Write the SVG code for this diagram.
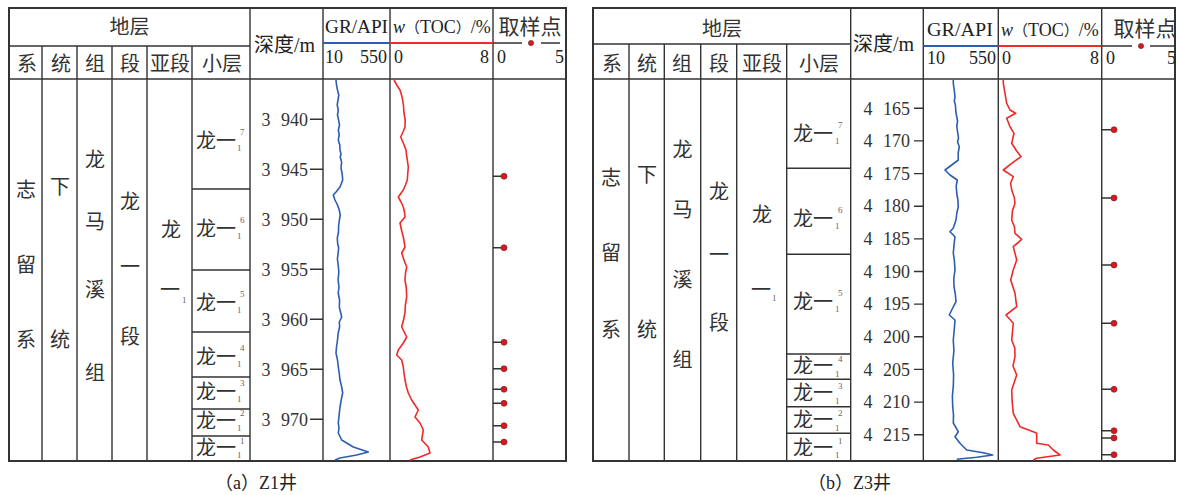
<svg xmlns="http://www.w3.org/2000/svg" width="1178" height="495" viewBox="0 0 1178 495">
<style>
.bd{stroke:#333;stroke-width:2;fill:none}
.ln{stroke:#333;stroke-width:1.4;fill:none}
.cn{font-family:"Noto Sans CJK SC",sans-serif;font-size:20px;fill:#333;text-anchor:middle}
.hd{font-family:"Liberation Serif",serif;font-size:18px;fill:#222}
.hc{font-family:"Noto Sans CJK SC",sans-serif}
.dp{font-family:"Liberation Serif",serif;font-size:18px;fill:#333;text-anchor:end;word-spacing:6px}
.sm{font-family:"Liberation Serif",serif;font-size:9px;fill:#666}
.gr{stroke:#2b5db0;stroke-width:1.6;fill:none;stroke-linejoin:round}
.toc{stroke:#ee2a2a;stroke-width:1.6;fill:none;stroke-linejoin:round}
.dot{fill:#e3131b;stroke:#552222;stroke-width:0.6}
.cap{font-family:"Liberation Serif",serif;font-size:18px;fill:#222}
</style>
<rect width="1178" height="495" fill="#fff"/>

<!-- Panel A -->
<g id="panel-a">
 <g id="a-grid">
  <rect class="bd" x="9" y="8" width="557" height="453"/>
  <path class="ln" d="M9 46H250M9 79H566M42 46V461M77 46V461M112 46V461M147 46V461M192 46V461M250 8V461M323 8V461M390 8V461M493 8V461"/>
  <path class="ln" d="M192 189H250M192 270H250M192 332H250M192 377H250M192 409H250M192 436H250"/>
  <path class="ln" d="M310 119.3H323M310 169.3H323M310 219.3H323M310 269.3H323M310 319.3H323M310 369.3H323M310 419.3H323"/>
  <line x1="323" y1="43" x2="390" y2="43" stroke="#2b5db0" stroke-width="2"/>
  <line x1="390" y1="43" x2="493" y2="43" stroke="#ee2a2a" stroke-width="2"/>
  <path class="ln" d="M493 43H522M541 43H560"/>
  <circle class="dot" cx="531" cy="43" r="2.6"/>
 </g>
 <g id="a-header">
  <text class="cn" x="129.5" y="34">地层</text>
  <text class="cn" x="27" y="71">系</text>
  <text class="cn" x="61" y="71">统</text>
  <text class="cn" x="95" y="71">组</text>
  <text class="cn" x="130" y="71">段</text>
  <text class="cn" x="170" y="71">亚段</text>
  <text class="cn" x="222" y="71">小层</text>
  <text class="hd" x="254" y="52" style="font-size:20px"><tspan class="hc">深度</tspan>/m</text>
  <text class="hd" x="325" y="33" textLength="63" lengthAdjust="spacingAndGlyphs">GR/API</text>
  <text class="hd" x="393" y="33"><tspan font-style="italic">w</tspan><tspan class="hc" style="font-size:15px">（</tspan>TOC<tspan class="hc" style="font-size:15px">）</tspan>/%</text>
  <text class="cn" x="530" y="34" style="font-size:21px">取样点</text>
  <text class="hd" x="325" y="63">10</text>
  <text class="hd" x="387" y="63" text-anchor="end">550</text>
  <text class="hd" x="394" y="63">0</text>
  <text class="hd" x="489" y="63" text-anchor="end">8</text>
  <text class="hd" x="497" y="63">0</text>
  <text class="hd" x="564" y="63" text-anchor="end">5</text>
 </g>
 <g id="a-strata">
  <text class="cn" x="26" y="197">志</text>
  <text class="cn" x="26" y="272">留</text>
  <text class="cn" x="26" y="347">系</text>
  <text class="cn" x="60" y="194">下</text>
  <text class="cn" x="60" y="347">统</text>
  <text class="cn" x="95" y="167">龙</text>
  <text class="cn" x="95" y="229">马</text>
  <text class="cn" x="95" y="297">溪</text>
  <text class="cn" x="95" y="380">组</text>
  <text class="cn" x="130" y="209">龙</text>
  <text class="cn" x="130" y="274">一</text>
  <text class="cn" x="130" y="344">段</text>
  <text class="cn" x="171" y="237">龙</text>
  <text class="cn" x="170" y="297">一</text>
  <text class="sm" x="182" y="303">1</text>
 </g>
 <g id="a-sublayers">
  <text class="cn" x="216" y="148">龙一</text><text class="sm" x="240" y="135">7</text><text class="sm" x="237" y="151">1</text>
  <text class="cn" x="216" y="236">龙一</text><text class="sm" x="240" y="223">6</text><text class="sm" x="237" y="239">1</text>
  <text class="cn" x="216" y="310">龙一</text><text class="sm" x="240" y="297">5</text><text class="sm" x="237" y="313">1</text>
  <text class="cn" x="216" y="364">龙一</text><text class="sm" x="240" y="351">4</text><text class="sm" x="237" y="367">1</text>
  <text class="cn" x="216" y="399">龙一</text><text class="sm" x="240" y="386">3</text><text class="sm" x="237" y="402">1</text>
  <text class="cn" x="216" y="428">龙一</text><text class="sm" x="240" y="416">2</text><text class="sm" x="237" y="431">1</text>
  <text class="cn" x="216" y="455">龙一</text><text class="sm" x="240" y="444">1</text><text class="sm" x="237" y="458">1</text>
 </g>
 <g id="a-depth">
  <text class="dp" x="308" y="125.5" xml:space="preserve">3 940</text>
  <text class="dp" x="308" y="175.5" xml:space="preserve">3 945</text>
  <text class="dp" x="308" y="225.5" xml:space="preserve">3 950</text>
  <text class="dp" x="308" y="275.5" xml:space="preserve">3 955</text>
  <text class="dp" x="308" y="325.5" xml:space="preserve">3 960</text>
  <text class="dp" x="308" y="375.5" xml:space="preserve">3 965</text>
  <text class="dp" x="308" y="425.5" xml:space="preserve">3 970</text>
 </g>
 <g id="a-curves">
  <polyline class="gr" points="336,80 336.5,85 337.5,90 338.8,95 338,100 337.2,105 338.3,110 337.5,115 338.6,120 339.5,125 338.4,130 339.2,135 338.3,140 339.8,145 340,150 341,154 340.2,157 341.6,162 341,168 342.2,174 342.7,180 340,187 336,192 333.3,195 335,200 337.5,205 339.3,210 340.2,215 339.4,220 338.6,226 338.5,232 337.3,238 337.6,243 338.7,248 338.1,253 337.4,259 338.2,265 338.8,272 338.1,280 339,287 338.2,293 339.6,300 339.3,307 341.7,317 339.3,322 339.6,327 338.2,333 337.5,340 336.5,347 336,353 337.5,360 338.3,367 339.2,373 340,380 341.5,386 342.7,393 341.2,400 340,407 339.2,414 338.3,423 339,428 338.3,433 341.7,440 353.3,447 368.3,452 356.7,455 340,458 335,460"/>
  <polyline class="toc" points="394,80 396.7,85 400,90 401.5,95 402.7,100 403.5,106 404,113 405.2,120 405,127 403,132 400.7,137 403.3,143 406,150 406.5,155 407.3,160 408.3,167 407.8,173 407.3,180 405.5,185 403.3,190 398.3,197 401,202 403.3,207 404.5,212 405,217 400,223 401.5,230 403.3,237 404.2,242 405,247 401.7,253 404,260 406.7,267 405.5,273 405,280 406.3,288 406.7,297 405.4,305 405,313 403.5,320 401.7,327 406.7,337 403.3,343 398.3,350 396.7,355 401.7,360 403.3,367 404,373 405,380 406.5,387 408.3,393 411.7,400 415,405 418.3,410 415,417 420,423 423.3,430 422.5,435 421.7,440 428.3,447 430,453 420,457 410,460"/>
 </g>
 <g id="a-samples">
  <path class="ln" d="M493 176.3H501M493 247.7H501M493 342.3H501M493 368.7H501M493 389.3H501M493 403.3H501M493 425.7H501M493 442H501"/>
  <circle class="dot" cx="504" cy="176.3" r="3"/>
  <circle class="dot" cx="504" cy="247.7" r="3"/>
  <circle class="dot" cx="504" cy="342.3" r="3"/>
  <circle class="dot" cx="504" cy="368.7" r="3"/>
  <circle class="dot" cx="504" cy="389.3" r="3"/>
  <circle class="dot" cx="504" cy="403.3" r="3"/>
  <circle class="dot" cx="504" cy="425.7" r="3"/>
  <circle class="dot" cx="504" cy="442" r="3"/>
 </g>
 <text id="a-caption" class="cap" x="215" y="489"><tspan class="hc">（</tspan>a<tspan class="hc">）</tspan>Z1<tspan class="hc">井</tspan></text>
</g>

<!-- Panel B -->
<g id="panel-b">
 <g id="b-grid">
  <rect class="bd" x="593" y="8" width="582" height="453"/>
  <path class="ln" d="M593 44H850.7M593 79H1175M629 44V461M664.3 44V461M700.7 44V461M736.7 44V461M786.7 44V461M850.7 8V461M923.3 8V461M998.3 8V461M1101.7 8V461"/>
  <path class="ln" d="M786.7 168.3H850.7M786.7 254.3H850.7M786.7 354H850.7M786.7 379.3H850.7M786.7 406.7H850.7M786.7 433.3H850.7"/>
  <path class="ln" d="M914 108.3H923.3M914 140.9H923.3M914 173.6H923.3M914 206.2H923.3M914 238.9H923.3M914 271.5H923.3M914 304.1H923.3M914 336.8H923.3M914 369.4H923.3M914 402.1H923.3M914 434.7H923.3"/>
  <line x1="923.3" y1="46" x2="998.3" y2="46" stroke="#2b5db0" stroke-width="2"/>
  <line x1="998.3" y1="46" x2="1101.7" y2="46" stroke="#ee2a2a" stroke-width="2"/>
  <path class="ln" d="M1101.7 46H1132M1150 46H1175"/>
  <circle class="dot" cx="1141" cy="46" r="2.6"/>
 </g>
 <g id="b-header">
  <text class="cn" x="722" y="36">地层</text>
  <text class="cn" x="612" y="71">系</text>
  <text class="cn" x="647" y="71">统</text>
  <text class="cn" x="682" y="71">组</text>
  <text class="cn" x="719" y="71">段</text>
  <text class="cn" x="762" y="71">亚段</text>
  <text class="cn" x="819" y="71">小层</text>
  <text class="hd" x="853" y="51" style="font-size:20px"><tspan class="hc">深度</tspan>/m</text>
  <text class="hd" x="927" y="36" textLength="66" lengthAdjust="spacingAndGlyphs">GR/API</text>
  <text class="hd" x="1001" y="36"><tspan font-style="italic">w</tspan><tspan class="hc" style="font-size:15px">（</tspan>TOC<tspan class="hc" style="font-size:15px">）</tspan>/%</text>
  <text class="cn" x="1145" y="36" style="font-size:21px">取样点</text>
  <text class="hd" x="927" y="64">10</text>
  <text class="hd" x="996" y="64" text-anchor="end">550</text>
  <text class="hd" x="1002" y="64">0</text>
  <text class="hd" x="1099" y="64" text-anchor="end">8</text>
  <text class="hd" x="1106" y="64">0</text>
  <text class="hd" x="1176" y="64" text-anchor="end">5</text>
 </g>
 <g id="b-strata">
  <text class="cn" x="611" y="185">志</text>
  <text class="cn" x="611" y="260">留</text>
  <text class="cn" x="611" y="337">系</text>
  <text class="cn" x="647" y="182">下</text>
  <text class="cn" x="647" y="337">统</text>
  <text class="cn" x="682.5" y="157">龙</text>
  <text class="cn" x="682.5" y="217">马</text>
  <text class="cn" x="682.5" y="287">溪</text>
  <text class="cn" x="682.5" y="367">组</text>
  <text class="cn" x="719" y="199">龙</text>
  <text class="cn" x="719" y="262">一</text>
  <text class="cn" x="719" y="330">段</text>
  <text class="cn" x="762" y="222">龙</text>
  <text class="cn" x="761" y="297">一</text>
  <text class="sm" x="772" y="301">1</text>
 </g>
 <g id="b-sublayers">
  <text class="cn" x="813" y="141">龙一</text><text class="sm" x="838" y="128">7</text><text class="sm" x="835" y="144">1</text>
  <text class="cn" x="813" y="226">龙一</text><text class="sm" x="838" y="213">6</text><text class="sm" x="835" y="229">1</text>
  <text class="cn" x="813" y="309">龙一</text><text class="sm" x="838" y="296">5</text><text class="sm" x="835" y="312">1</text>
  <text class="cn" x="813" y="373">龙一</text><text class="sm" x="838" y="362">4</text><text class="sm" x="835" y="377">1</text>
  <text class="cn" x="813" y="400">龙一</text><text class="sm" x="838" y="389">3</text><text class="sm" x="835" y="404">1</text>
  <text class="cn" x="813" y="427">龙一</text><text class="sm" x="838" y="416">2</text><text class="sm" x="835" y="431">1</text>
  <text class="cn" x="813" y="455">龙一</text><text class="sm" x="838" y="444">1</text><text class="sm" x="835" y="458">1</text>
 </g>
 <g id="b-depth">
  <text class="dp" x="910" y="114.5" xml:space="preserve">4 165</text>
  <text class="dp" x="910" y="147.1" xml:space="preserve">4 170</text>
  <text class="dp" x="910" y="179.8" xml:space="preserve">4 175</text>
  <text class="dp" x="910" y="212.4" xml:space="preserve">4 180</text>
  <text class="dp" x="910" y="245.1" xml:space="preserve">4 185</text>
  <text class="dp" x="910" y="277.7" xml:space="preserve">4 190</text>
  <text class="dp" x="910" y="310.3" xml:space="preserve">4 195</text>
  <text class="dp" x="910" y="343" xml:space="preserve">4 200</text>
  <text class="dp" x="910" y="375.6" xml:space="preserve">4 205</text>
  <text class="dp" x="910" y="408.3" xml:space="preserve">4 210</text>
  <text class="dp" x="910" y="440.9" xml:space="preserve">4 215</text>
 </g>
 <g id="b-curves">
  <polyline class="gr" points="953.3,80 953.3,83.3 954.2,90 955,96.7 954.3,101 955.4,105 956,113 957.6,121 956.8,126 957.3,130 958.5,138 957.6,142 959.3,146.7 958.2,153 958.3,160 951.7,165 945,170 950,175 957.3,180 956.2,186 956.7,193 957.9,200 958.3,206.7 956.8,213 956,220 953.3,228 950,231.7 955,236.7 954.1,244 953.3,253 954.4,261 955,270 953.8,278 954,286.7 955.3,294 956,301.7 951.7,310 949.3,315 955,320 954.2,330 953.3,340 953.9,351 952.7,363 953.6,375 953.3,386.7 952.4,396 952.7,406.7 953.5,415 953.3,423 958.3,431.7 955,436.7 960,443.3 966.7,450 983.3,452.7 992.7,455 976.7,457.3 956.7,459.3"/>
  <polyline class="toc" points="1003.3,80 1003.3,83.3 1005,93.3 1006.7,103.3 1010,110 1015.7,113.3 1006.7,118.3 1010,126.7 1014,133.3 1011.7,143.3 1016,150 1021,156.7 1011.7,163.3 1003.3,170 1013.3,176.7 1010.6,183 1011.7,190 1014.2,197 1015,203.3 1012.4,211 1011.7,220 1014.5,227 1015,233.3 1021.7,239.3 1013.3,246.7 1016.7,260 1013.2,270 1010.7,280 1015,293.3 1016.7,306.7 1006,315 1013.3,323.3 1011.7,340 1014.8,348 1015,356.7 1013,366 1016.7,375 1011.7,390 1012.2,402 1013.3,413.3 1020,426.7 1033.3,431.7 1036.7,433.3 1036.7,443.3 1048.3,445 1053.3,450 1060,455 1036.7,458.3 1033.3,460"/>
 </g>
 <g id="b-samples">
  <path class="ln" d="M1101.7 129.7H1111M1101.7 198H1111M1101.7 265H1111M1101.7 323.3H1111M1101.7 389.3H1111M1101.7 430.7H1111M1101.7 438H1111M1101.7 454.7H1111"/>
  <circle class="dot" cx="1114" cy="129.7" r="3"/>
  <circle class="dot" cx="1114" cy="198" r="3"/>
  <circle class="dot" cx="1114" cy="265" r="3"/>
  <circle class="dot" cx="1114" cy="323.3" r="3"/>
  <circle class="dot" cx="1114" cy="389.3" r="3"/>
  <circle class="dot" cx="1114" cy="430.7" r="3"/>
  <circle class="dot" cx="1114" cy="438" r="3"/>
  <circle class="dot" cx="1114" cy="454.7" r="3"/>
 </g>
 <text id="b-caption" class="cap" x="808" y="489"><tspan class="hc">（</tspan>b<tspan class="hc">）</tspan>Z3<tspan class="hc">井</tspan></text>
</g>
</svg>
